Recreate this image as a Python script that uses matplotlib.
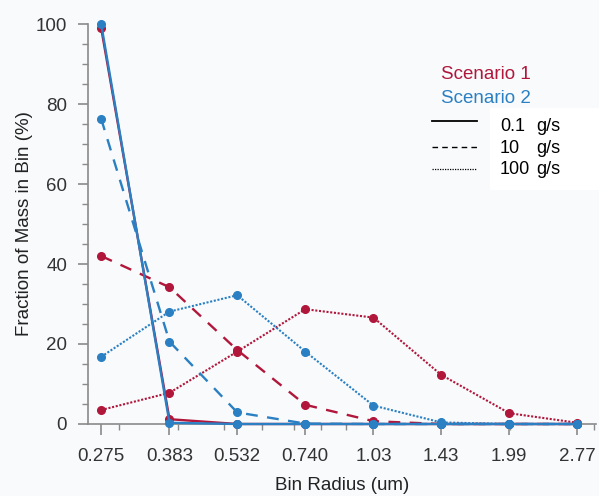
import matplotlib
matplotlib.use("Agg")
import matplotlib.pyplot as plt
from matplotlib.lines import Line2D
from matplotlib.patches import Rectangle
from matplotlib.ticker import FixedLocator, LogLocator, NullFormatter, FixedFormatter

# bin radii (um) and tick labels
radius = [0.275, 0.383, 0.532, 0.740, 1.03, 1.43, 1.99, 2.77]
radius_labels = ["0.275", "0.383", "0.532", "0.740", "1.03", "1.43", "1.99", "2.77"]

# fraction of mass in bin (%) - scenario 1
s1_low = [99.0, 1.2, 0.0, 0.0, 0.0, 0.0, 0.0, 0.0]       # 0.1 g/s
s1_mid = [42.0, 34.2, 18.5, 4.8, 0.7, 0.0, 0.0, 0.0]     # 10 g/s
s1_high = [3.5, 7.8, 18.1, 28.7, 26.6, 12.3, 2.7, 0.3]   # 100 g/s

# scenario 2
s2_low = [100.0, 0.3, 0.0, 0.0, 0.0, 0.0, 0.0, 0.0]
s2_mid = [76.3, 20.6, 2.9, 0.1, 0.0, 0.0, 0.0, 0.0]
s2_high = [16.8, 28.1, 32.2, 18.1, 4.6, 0.4, 0.0, 0.0]

RED = "#b0173b"
BLUE = "#2a80c2"
GREY = "#8a8a8a"
plt.rcParams['font.family'] = ['Liberation Sans', 'DejaVu Sans']

W, H = 599, 496
fig = plt.figure(figsize=(W / 100, H / 100), dpi=100)
fig.patch.set_facecolor("#f8fafc")
ax = fig.add_axes([88 / W, 1 - 424 / H, (596 - 88) / W, 400 / H])
ax.set_facecolor("#f8fafc")

styles = {"low": dict(ls="-", lw=1.7),
          "mid": dict(ls=(0, (5, 4)), lw=1.7),
          "high": dict(ls=(0, (1, 0.8)), lw=1.5)}

for color, series in [(RED, [s1_low, s1_mid, s1_high]), (BLUE, [s2_low, s2_mid, s2_high])]:
    for key, vals in zip(["high", "mid", "low"], series[::-1]):
        ax.plot(radius, vals, color=color, marker="o", markersize=5.5,
                clip_on=False, zorder=3, **styles[key])

ax.set_xscale("log")
ax.set_xlim(0.258, 3.03)
ax.set_ylim(0, 100)
ax.xaxis.set_major_locator(FixedLocator(radius))
ax.xaxis.set_major_formatter(FixedFormatter(radius_labels))
ax.xaxis.set_minor_locator(LogLocator(base=10, subs=range(2, 10)))
ax.xaxis.set_minor_formatter(NullFormatter())
ax.set_yticks([0, 20, 40, 60, 80, 100])
ax.set_yticks(range(5, 100, 5), minor=True)

for side in ["top", "right"]:
    ax.spines[side].set_visible(False)
for side in ["left", "bottom"]:
    ax.spines[side].set_color(GREY)
    ax.spines[side].set_linewidth(1.2)

ax.tick_params(axis="x", which="major", length=8, width=1.2, color=GREY,
               labelsize=13.5, pad=9, labelcolor="#333333")
ax.tick_params(axis="y", which="major", length=7, width=1.2, color=GREY,
               labelsize=13.5, pad=8, labelcolor="#333333")
ax.tick_params(which="minor", length=4, width=1.0, color=GREY)

ax.set_xlabel("Bin Radius (um)", fontsize=13.5, color="#222222", labelpad=9)
ax.set_ylabel("Fraction of Mass in Bin (%)", fontsize=13.5, color="#222222", labelpad=2)

# hand-made legend
fig.patches.append(Rectangle((490 / W, 1 - 190 / H), 109 / W, 82 / H,
                             transform=fig.transFigure, facecolor="white",
                             edgecolor="none", zorder=0))
fig.text(441 / W, 1 - 79 / H, "Scenario 1", color=RED, fontsize=13.5, va="baseline")
fig.text(441 / W, 1 - 103 / H, "Scenario 2", color=BLUE, fontsize=13.5, va="baseline")

legend_styles = {"low": dict(ls="-", lw=1.3),
                 "mid": dict(ls=(0, (4, 3)), lw=1.0),
                 "high": dict(ls=(0, (1, 1)), lw=0.9)}
# label, line y, text baseline y (pixels from top)
legend_rows = [("0.1", 121, 131, "low"), ("10", 147, 153, "mid"), ("100", 169, 174, "high")]
for label, y, ty, key in legend_rows:
    fig.lines.append(Line2D([432 / W, 477 / W], [1 - y / H, 1 - y / H],
                            transform=fig.transFigure, color="black",
                            **legend_styles[key]))
    fig.text(500 / W, 1 - ty / H, label, fontsize=13, va="baseline", color="black")
    fig.text(536 / W, 1 - ty / H, "g/s", fontsize=13, va="baseline", color="black")

fig.savefig("out.png", dpi=100, facecolor=fig.get_facecolor())
